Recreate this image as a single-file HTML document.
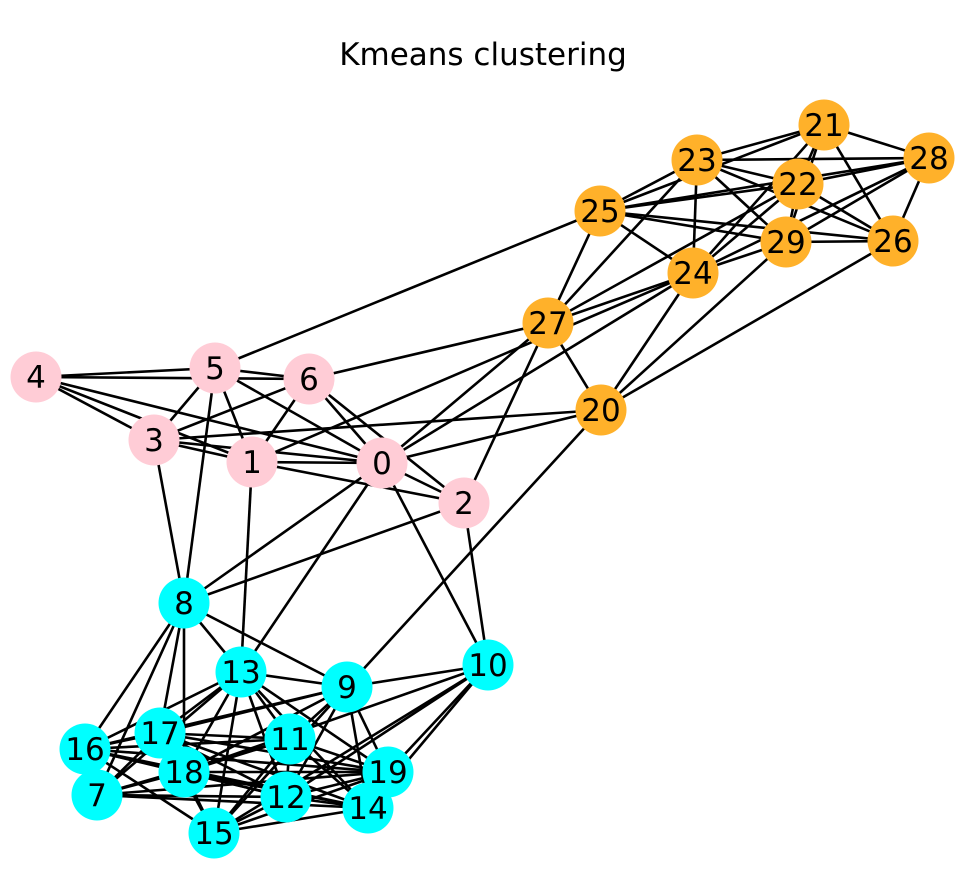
<!DOCTYPE html>
<html><head><style>body{margin:0;background:#fff}</style></head><body>
<svg width="972" height="884" xmlns="http://www.w3.org/2000/svg" font-family="DejaVu Sans, sans-serif">
<rect width="972" height="884" fill="#fff"/>
<text x="483" y="65" style="font-size:31px" text-anchor="middle">Kmeans clustering</text>
<g id="e" stroke="#000" stroke-width="2.6"></g>
<g id="n"></g>
</svg>
<script>
const P={0:[382,463],1:[252,462],2:[464,503],3:[154,440],4:[36,377],5:[215,368],6:[309,379],7:[97,795],8:[184,603],9:[347,687],10:[488,665],11:[290,739],12:[286,797],13:[241,672],14:[368,808],15:[214,833],16:[85,749],17:[160,733],18:[184,772],19:[388,772],20:[601,410],21:[824,125],22:[798,184],23:[697,160],24:[693,273],25:[600,211],26:[893,241],27:[548,323],28:[929,158],29:[786,242]};
const E="4-5 4-6 4-3 4-1 4-0 5-6 5-3 5-1 5-0 5-8 5-25 6-3 6-1 6-0 6-2 6-27 3-1 3-0 3-20 3-8 1-0 1-2 1-13 1-24 0-2 0-27 0-24 0-20 0-8 0-13 0-10 2-27 2-8 2-10 27-25 27-23 27-24 27-22 27-20 20-24 20-29 20-26 20-9 25-23 25-21 25-22 25-28 25-29 25-26 25-24 23-21 23-28 23-22 23-29 23-26 23-24 21-28 21-22 21-29 21-26 21-24 22-28 22-29 22-26 22-24 28-29 28-24 28-26 29-26 29-24 8-13 8-9 8-16 8-7 8-17 8-18 13-9 13-17 13-16 13-18 13-15 13-12 13-11 13-19 13-14 13-7 9-17 9-16 9-18 9-11 9-12 9-15 9-19 9-14 9-10 10-18 10-12 10-19 10-14 10-15 16-17 16-18 16-12 16-14 16-19 16-15 16-11 7-17 7-18 7-11 7-12 7-14 7-19 17-11 17-12 17-19 17-14 17-15 18-11 18-12 18-19 18-14 18-15 11-12 11-15 11-19 11-14 12-19 12-14 12-15 15-14 15-19".split(" ");
const ns="http://www.w3.org/2000/svg";
const eg=document.getElementById("e"),ng=document.getElementById("n");
for(const s of E){const[a,b]=s.split("-");const l=document.createElementNS(ns,"line");l.setAttribute("x1",P[a][0]);l.setAttribute("y1",P[a][1]);l.setAttribute("x2",P[b][0]);l.setAttribute("y2",P[b][1]);eg.appendChild(l);}
for(const k in P){const i=+k;const c=i<=6?"#ffccd6":i<=19?"#00ffff":"#ffb12a";
const ci=document.createElementNS(ns,"circle");ci.setAttribute("cx",P[k][0]);ci.setAttribute("cy",P[k][1]);ci.setAttribute("r",25.5);ci.setAttribute("fill",c);ng.appendChild(ci);
const t=document.createElementNS(ns,"text");t.setAttribute("x",P[k][0]);t.setAttribute("y",P[k][1]+11);t.setAttribute("style","font-size:31px");t.setAttribute("text-anchor","middle");t.textContent=k;ng.appendChild(t);}
</script>
</body></html>
